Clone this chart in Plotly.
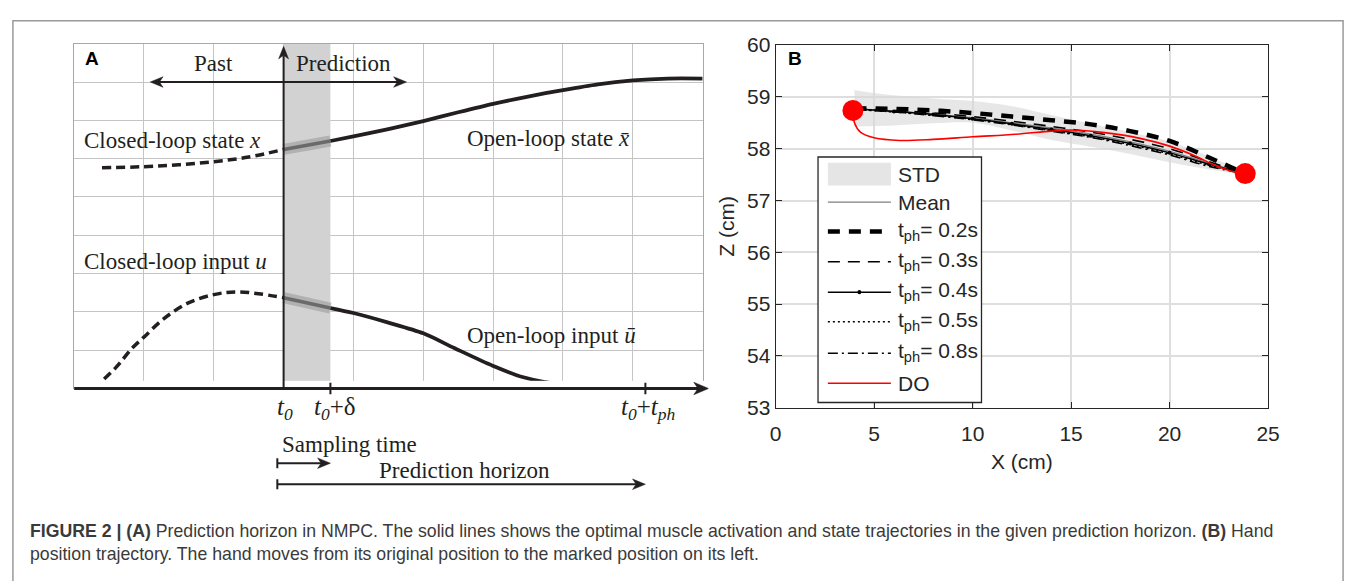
import plotly.graph_objects as go

W, H = 1360, 581

# ---------------- Panel A (schematic NMPC, grid units) ----------------
T0 = 3.0
T0_DELTA = 3.67
T0_TPH = 8.18
state_t = [0.4, 1.0, 1.5, 2.0, 2.5, 3.0, 3.67, 4.0, 4.5, 5.0, 5.5, 6.0, 6.5, 7.0, 7.5, 8.0, 8.5, 9.0]
state_v = [5.76, 5.79, 5.84, 5.92, 6.04, 6.24, 6.46, 6.58, 6.77, 6.98, 7.21, 7.43, 7.62, 7.79, 7.94, 8.04, 8.09, 8.09]
input_t = [0.28, 0.6, 0.83, 1.0, 1.27, 1.62, 2.0, 2.36, 3.0, 3.67, 4.0, 4.5, 5.0, 5.45, 6.0, 6.42, 7.0, 7.6, 8.2, 9.0]
input_v = [0.0, 0.55, 1.05, 1.34, 1.80, 2.22, 2.45, 2.52, 2.37, 2.10, 1.97, 1.72, 1.44, 1.05, 0.59, 0.30, 0.10, 0.04, 0.02, 0.01]

# ---------------- Panel B (hand position trajectory) ----------------
x_cm = [4.0, 6.0, 8.0, 10.0, 12.0, 14.0, 16.0, 18.0, 20.0, 22.0, 23.84]
std_upper = [59.13, 59.03, 58.97, 58.92, 58.82, 58.65, 58.48, 58.32, 58.14, 57.85, 57.55]
std_lower = [58.43, 58.45, 58.49, 58.50, 58.35, 58.17, 58.04, 57.90, 57.74, 57.60, 57.50]
z_mean = [58.77, 58.73, 58.67, 58.60, 58.50, 58.40, 58.28, 58.13, 57.95, 57.72, 57.52]
z_tph02 = [58.78, 58.77, 58.74, 58.69, 58.62, 58.55, 58.47, 58.34, 58.15, 57.83, 57.52]
z_tph03 = [58.77, 58.74, 58.69, 58.62, 58.53, 58.43, 58.32, 58.18, 58.00, 57.75, 57.52]
z_tph04 = [58.77, 58.72, 58.66, 58.58, 58.48, 58.37, 58.25, 58.10, 57.92, 57.70, 57.52]
z_tph05 = [58.76, 58.71, 58.65, 58.57, 58.47, 58.35, 58.23, 58.08, 57.90, 57.68, 57.52]
z_tph08 = [58.76, 58.71, 58.64, 58.56, 58.46, 58.34, 58.22, 58.06, 57.88, 57.66, 57.52]
do_x = [3.92, 4.0, 4.3, 5.0, 6.3, 8.0, 10.0, 12.2, 14.0, 15.0, 16.7, 18.5, 20.0, 21.3, 22.3, 23.2, 23.84]
do_z = [58.74, 58.50, 58.32, 58.21, 58.16, 58.18, 58.23, 58.28, 58.34, 58.36, 58.31, 58.20, 58.05, 57.86, 57.68, 57.56, 57.52]

x_ticks = [0, 5, 10, 15, 20, 25]
z_ticks = [53, 54, 55, 56, 57, 58, 59, 60]

INK = '#231f20'
AX = '#262626'
SERIF = 'Liberation Serif'
SANS = 'Liberation Sans'

# pixel geometry of panel A (for arrowhead proportions)
A_L, A_R, A_T, A_B = 69, 706, 33, 392
UX = (A_R - A_L) / 9.0
UY = (A_B - A_T) / 9.0


def px_x(p):
    return p / W


def px_y(p):
    return 1 - p / H


def seg(t, v, lo, hi):
    idx = [i for i, a in enumerate(t) if lo - 1e-9 <= a <= hi + 1e-9]
    return [t[i] for i in idx], [v[i] for i in idx]


fig = go.Figure()

# ---- Panel A traces ----
for t, v in [(state_t, state_v), (input_t, input_v)]:
    pt, pv = seg(t, v, -1, T0)
    fig.add_trace(go.Scatter(x=pt, y=pv, mode='lines', xaxis='x', yaxis='y', cliponaxis=False,
                             line=dict(color=INK, width=3.5, dash='9px,5px', shape='spline'),
                             hoverinfo='skip', showlegend=False))
    ht, hv = seg(t, v, T0, T0_DELTA)
    fig.add_trace(go.Scatter(x=ht, y=hv, mode='lines', xaxis='x', yaxis='y',
                             line=dict(color='rgba(150,150,150,0.55)', width=11),
                             hoverinfo='skip', showlegend=False))
    fig.add_trace(go.Scatter(x=ht, y=hv, mode='lines', xaxis='x', yaxis='y',
                             line=dict(color='#6a6a6a', width=3.5),
                             hoverinfo='skip', showlegend=False))
    ot, ov = seg(t, v, T0_DELTA, 99)
    fig.add_trace(go.Scatter(x=ot, y=ov, mode='lines', xaxis='x', yaxis='y', cliponaxis=False,
                             line=dict(color=INK, width=3.8, shape='spline', smoothing=0.8),
                             hoverinfo='skip', showlegend=False))

# ---- Panel B traces ----
fig.add_trace(go.Scatter(x=x_cm, y=std_upper, mode='lines', xaxis='x2', yaxis='y2',
                         line=dict(width=0, color='#e5e5e5', shape='spline'),
                         hoverinfo='skip', showlegend=False))
fig.add_trace(go.Scatter(x=x_cm, y=std_lower, mode='lines', xaxis='x2', yaxis='y2',
                         fill='tonexty', fillcolor='rgba(215,215,215,0.6)',
                         line=dict(width=0, color='#e5e5e5', shape='spline'),
                         hoverinfo='skip', showlegend=False))
line_specs = [
    (z_mean, dict(color='#7f7f7f', width=1.3)),
    (z_tph03, dict(color='black', width=1.6, dash='12px,8px')),
    (z_tph05, dict(color='black', width=1.6, dash='2px,3px')),
    (z_tph08, dict(color='black', width=1.6, dash='10px,4px,2px,4px')),
    (z_tph04, dict(color='black', width=1.5)),
    (z_tph02, dict(color='black', width=4.5, dash='12px,9px')),
]
for zz, ln in line_specs:
    ln['shape'] = 'spline'
    mode = 'lines+markers' if zz is z_tph04 else 'lines'
    fig.add_trace(go.Scatter(x=x_cm, y=zz, mode=mode, xaxis='x2', yaxis='y2', line=ln,
                             marker=dict(size=4, color='black'),
                             hoverinfo='skip', showlegend=False))
fig.add_trace(go.Scatter(x=do_x, y=do_z, mode='lines', xaxis='x2', yaxis='y2',
                         line=dict(color='#ff0000', width=1.6, shape='spline'),
                         hoverinfo='skip', showlegend=False))
fig.add_trace(go.Scatter(x=[do_x[0], do_x[-1]], y=[do_z[0], do_z[-1]], mode='markers',
                         xaxis='x2', yaxis='y2', cliponaxis=False,
                         marker=dict(size=21, color='#ff0000', line=dict(width=0)),
                         hoverinfo='skip', showlegend=False))

shapes = []
annotations = []

# Figure frame
shapes.append(dict(type='rect', xref='paper', yref='paper', x0=px_x(7), x1=px_x(1355),
                   y0=-0.05, y1=px_y(9), line=dict(color='#9a9a9a', width=1.5), layer='above'))

# Panel A: prediction band
shapes.append(dict(type='rect', xref='x', yref='y', x0=T0, x1=T0_DELTA, y0=0, y1=9,
                   fillcolor='#d2d2d2', line=dict(width=0), layer='between'))


def head(tx, ty, direction, xr, yr, L=13.0, hw=5.5):
    """filled notched arrowhead (in axis units of panel A scale)"""
    lx, ly = L / UX, L / UY
    wx, wy = hw / UX, hw / UY
    if direction == 'right':
        pts = [(tx, ty), (tx - lx, ty + wy), (tx - 0.72 * lx, ty), (tx - lx, ty - wy)]
    elif direction == 'left':
        pts = [(tx, ty), (tx + lx, ty + wy), (tx + 0.72 * lx, ty), (tx + lx, ty - wy)]
    else:  # up
        pts = [(tx, ty), (tx - wx, ty - ly), (tx, ty - 0.72 * ly), (tx + wx, ty - ly)]
    path = 'M ' + ' L '.join(f'{a:.4f},{b:.4f}' for a, b in pts) + ' Z'
    return dict(type='path', xref=xr, yref=yr, path=path, fillcolor=INK,
                line=dict(color=INK, width=0.5), layer='above')


def hline(x0, x1, y, xr, yr, w):
    return dict(type='line', xref=xr, yref=yr, x0=x0, x1=x1, y0=y, y1=y,
                line=dict(color=INK, width=w), layer='above')


# time axis (baseline) with arrow
X3_MAX = 9.0 + 6.0 / UX
shapes.append(hline(0, X3_MAX - 8 / UX, 0, 'x3', 'y3', 3))
shapes.append(head(X3_MAX, 0, 'right', 'x3', 'y3', L=15, hw=6.5))
# vertical t0 axis
shapes.append(dict(type='line', xref='x', yref='y', x0=T0, x1=T0, y0=0, y1=8.7,
                   line=dict(color=INK, width=2), layer='above'))
shapes.append(head(T0, 8.93, 'up', 'x', 'y', L=13, hw=5))
# Past / Prediction double arrow
shapes.append(hline(1.2, 4.65, 8.0, 'x', 'y', 2))
shapes.append(head(1.09, 8.0, 'left', 'x', 'y'))
shapes.append(head(4.76, 8.0, 'right', 'x', 'y'))
# ticks at t0+delta and t0+tph
for tx in [T0_DELTA, T0_TPH]:
    shapes.append(dict(type='line', xref='x3', yref='y3', x0=tx, x1=tx, y0=-0.15, y1=0.15,
                       line=dict(color=INK, width=2), layer='above'))
# Sampling time / prediction horizon arrows
for yy, xe in [(-1.95, T0_DELTA), (-2.5, T0_TPH)]:
    shapes.append(hline(2.91, xe - 0.12, yy, 'x3', 'y3', 2))
    shapes.append(head(xe, yy, 'right', 'x3', 'y3'))
    shapes.append(dict(type='line', xref='x3', yref='y3', x0=2.91, x1=2.91, y0=yy - 0.13,
                       y1=yy + 0.13, line=dict(color=INK, width=2), layer='above'))


def txt(x, y, s, xr, yr, size=23, anchor='left', family=SERIF, color=INK):
    return dict(x=x, y=y, xref=xr, yref=yr, text=s, showarrow=False, xanchor=anchor,
                yanchor='middle', font=dict(family=family, size=size, color=color))


annotations += [
    txt(0.13, 8.62, '<b>A</b>', 'x', 'y', size=19, family=SANS, color='black'),
    txt(2.0, 8.47, 'Past', 'x', 'y', anchor='center'),
    txt(3.86, 8.47, 'Prediction', 'x', 'y', anchor='center'),
    txt(0.11, 6.48, 'Closed-loop state <i>x</i>', 'x', 'y'),
    txt(5.6, 6.52, 'Open-loop state <i>x\u0304</i>', 'x', 'y'),
    txt(0.11, 3.31, 'Closed-loop input <i>u</i>', 'x', 'y'),
    txt(5.6, 1.39, 'Open-loop input <i>u\u0304</i>', 'x', 'y'),
    txt(3.02, -0.52, '<i>t</i><sub><i>0</i></sub>', 'x3', 'y3', size=25, anchor='center'),
    txt(3.74, -0.52, '<i>t</i><sub><i>0</i></sub>+\u03b4', 'x3', 'y3', size=25, anchor='center'),
    txt(8.22, -0.52, '<i>t</i><sub><i>0</i></sub>+<i>t</i><sub><i>ph</i></sub>', 'x3', 'y3',
        size=25, anchor='center'),
    txt(2.95, -1.45, 'Sampling time', 'x3', 'y3'),
    txt(5.59, -2.14, 'Prediction horizon', 'x3', 'y3', anchor='center'),
]

# Panel B label
annotations.append(txt(1.0, 59.75, '<b>B</b>', 'x2', 'y2', size=19, family=SANS,
                       color='black', anchor='center'))

# Panel B custom legend
shapes.append(dict(type='rect', xref='x2', yref='y2', x0=2.15, x1=10.45, y0=53.1, y1=57.84,
                   fillcolor='white', line=dict(color=AX, width=1.3), layer='between'))
legend_rows = [57.51, 56.97, 56.40, 55.82, 55.23, 54.66, 54.05, 53.47]
legend_labels = ['STD', 'Mean', 't<sub>ph</sub>= 0.2s', 't<sub>ph</sub>= 0.3s',
                 't<sub>ph</sub>= 0.4s', 't<sub>ph</sub>= 0.5s', 't<sub>ph</sub>= 0.8s', 'DO']
legend_styles = [None,
                 dict(color='#7f7f7f', width=1.3),
                 dict(color='black', width=4.5, dash='12px,9px'),
                 dict(color='black', width=1.5, dash='12px,8px'),
                 dict(color='black', width=1.5),
                 dict(color='black', width=1.5, dash='2px,3px'),
                 dict(color='black', width=1.5, dash='10px,4px,2px,4px'),
                 dict(color='#ff0000', width=1.5)]
LX0, LX1, LTX = 2.65, 5.85, 6.1
for row, lab, sty in zip(legend_rows, legend_labels, legend_styles):
    if sty is None:
        shapes.append(dict(type='rect', xref='x2', yref='y2', x0=LX0, x1=LX1,
                           y0=row - 0.22, y1=row + 0.22, fillcolor='#e5e5e5',
                           line=dict(width=0), layer='above'))
    else:
        shapes.append(dict(type='line', xref='x2', yref='y2', x0=LX0, x1=LX1, y0=row, y1=row,
                           line=sty, layer='above'))
    annotations.append(txt(LTX, row + (0.02 if 'sub' in lab else 0.0), lab, 'x2', 'y2',
                           size=21, family=SANS, color=AX))
shapes.append(dict(type='circle', xref='x2', yref='y2', x0=(LX0 + LX1) / 2 - 0.1,
                   x1=(LX0 + LX1) / 2 + 0.1, y0=legend_rows[4] - 0.04, y1=legend_rows[4] + 0.04,
                   fillcolor='black', line=dict(width=0), layer='above'))

# Caption
CAP = dict(family=SANS, size=17.7, color='#3a3a3a')
annotations.append(dict(x=px_x(22), y=px_y(540), xref='paper', yref='paper', xanchor='left',
                        yanchor='middle', showarrow=False,
                        text='<b>FIGURE 2 | (A)</b> Prediction horizon in NMPC. The solid lines shows the '
                             'optimal muscle activation and state trajectories in the given prediction '
                             'horizon. <b>(B)</b> Hand',
                        font=CAP))
annotations.append(dict(x=px_x(22), y=px_y(564), xref='paper', yref='paper', xanchor='left',
                        yanchor='middle', showarrow=False,
                        text='position trajectory. The hand moves from its original position to the '
                             'marked position on its left.',
                        font=CAP))

gridA = dict(range=[0, 9], dtick=1, tick0=0, showgrid=True, gridcolor='#c4c4c4', gridwidth=1,
             showline=True, mirror=True, linecolor='#a8a8a8', linewidth=1,
             showticklabels=False, ticks='', zeroline=False, fixedrange=True)

fig.update_layout(
    width=W, height=H, margin=dict(l=0, r=0, t=0, b=0),
    paper_bgcolor='white', plot_bgcolor='white',
    showlegend=False,
    xaxis=dict(domain=[px_x(A_L), px_x(A_R)], **gridA),
    yaxis=dict(domain=[px_y(A_B), px_y(A_T)], **gridA),
    xaxis3=dict(domain=[px_x(A_L), px_x(A_R + 6)], range=[0, X3_MAX], visible=False,
                fixedrange=True, anchor='y3'),
    yaxis3=dict(domain=[px_y(510), px_y(384)], range=[-(510 - A_B) / UY, (A_B - 384) / UY],
                visible=False, fixedrange=True, anchor='x3'),
    xaxis2=dict(domain=[px_x(780), px_x(1279)], range=[0, 25], tickvals=x_ticks,
                showgrid=True, gridcolor='#dedede', gridwidth=2, zeroline=False,
                showline=True, mirror='ticks', linecolor=AX, linewidth=1.3,
                ticks='inside', ticklen=6, tickcolor=AX, tickwidth=1.3,
                ticklabelstandoff=7,
                tickfont=dict(family=SANS, size=21, color=AX),
                title=dict(text='X (cm)', font=dict(family=SANS, size=21, color=AX), standoff=10),
                anchor='y2', fixedrange=True),
    yaxis2=dict(domain=[px_y(412), px_y(34.5)], range=[53, 60], tickvals=z_ticks,
                showgrid=True, gridcolor='#dedede', gridwidth=2, zeroline=False,
                showline=True, mirror='ticks', linecolor=AX, linewidth=1.3,
                ticks='inside', ticklen=6, tickcolor=AX, tickwidth=1.3,
                tickfont=dict(family=SANS, size=21, color=AX),
                title=dict(text='Z (cm)', font=dict(family=SANS, size=21, color=AX), standoff=6),
                anchor='x2', fixedrange=True),
    shapes=shapes,
    annotations=annotations,
)

fig.write_html('out.html')
